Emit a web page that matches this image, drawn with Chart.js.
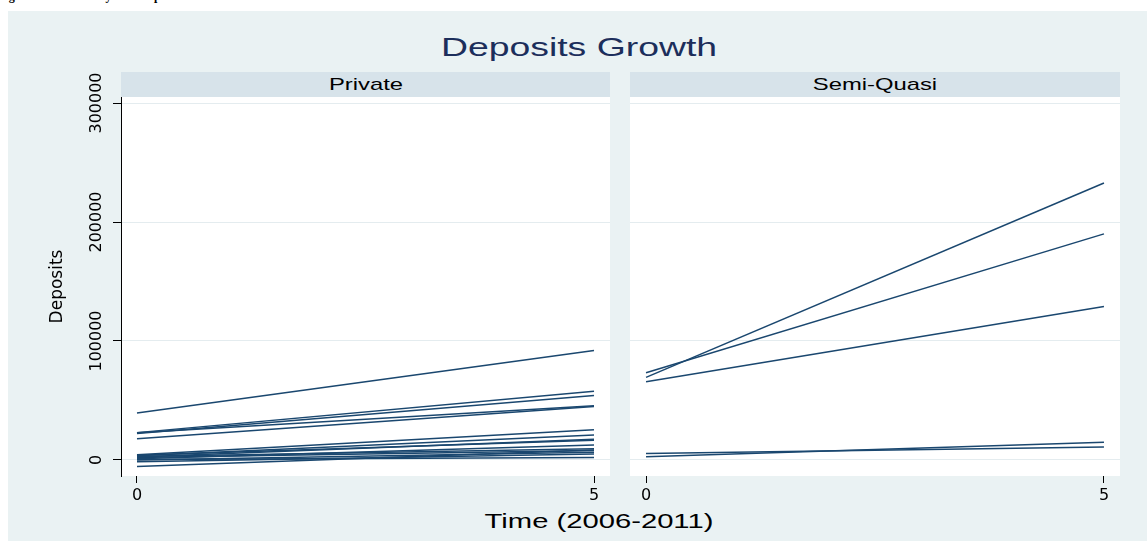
<!DOCTYPE html>
<html lang="en">
<head>
<meta charset="UTF-8">
<title>Deposits Growth</title>
<script src="https://cdn.jsdelivr.net/npm/chart.js"></script>
<style>
  body { margin: 0; width: 1147px; height: 541px; overflow: hidden; position: relative; background: #fff; font-family: "Liberation Sans", Arial, sans-serif; }
  .caption { position: absolute; left: -2px; top: -10px; font: bold 12px/12px "Liberation Serif", serif; color: #000; white-space: nowrap; }
  .region { position: absolute; left: 8px; top: 11px; width: 1139px; height: 530px; background: #eaf2f3; }
  .strip { position: absolute; top: 72px; height: 25px; background: #d7e3ea; }
  .txt { position: absolute; white-space: nowrap; line-height: 1; transform: translateX(-50%) scaleX(1.4); }
  canvas { position: absolute; }
</style>
</head>
<body>
<div class="caption">Figure 4: Trend Analysis of Deposit Growth</div>
<div class="region"></div>
<div class="strip" style="left:121px;width:489px"></div>
<div class="strip" style="left:630px;width:490px"></div>
<div class="txt" id="mainTitle" style="left:579px;top:33.6px;font-size:26.5px;color:#1c2e5b;transform:translateX(-50%) scaleX(1.41)">Deposits Growth</div>
<div class="txt" id="stripA" style="left:365.5px;top:75.6px;font-size:17px;color:#000"></div>
<div class="txt" id="stripB" style="left:875px;top:75.6px;font-size:17px;color:#000"></div>
<div class="txt" style="left:599px;top:511px;font-size:20px;color:#000;transform:translateX(-50%) scaleX(1.46)">Time (2006-2011)</div>
<canvas id="panelPrivate" width="585" height="450" style="left:30px;top:60px"></canvas>
<canvas id="panelSemi" width="500" height="450" style="left:625px;top:60px"></canvas>

<script>
// panels and axes
const panels = ['Private', 'Semi-Quasi'];
const years = [0, 5];
const xTicks = [0, 5];
const yTicks = [0, 100000, 200000, 300000];

// deposits per bank at the start (0) and end (5) of the period
const privateStart = [39500, 23000, 22300, 22800, 17800, 4500, 3500, 2500, 4000, 1000, 3000, 2000, 0, -1500, -5500, 500];
const privateEnd   = [92000, 57800, 54200, 45500, 45000, 25500, 21000, 17500, 16500, 12500, 9500, 8000, 6500, 5000, 8500, 2000];
const semiStart = [69400, 73300, 65800, 5500, 2800];
const semiEnd   = [232800, 190000, 128900, 11000, 15000];

const lineColor = '#1a476f';
const tickFont = { family: 'DejaVu Sans', size: 16 };

document.getElementById('stripA').textContent = panels[0];
document.getElementById('stripB').textContent = panels[1];

// white plot region behind the lines
const plotFill = {
  id: 'plotFill',
  beforeDraw(chart) {
    const { ctx, chartArea: a } = chart;
    ctx.save();
    ctx.fillStyle = '#ffffff';
    ctx.fillRect(a.left, a.top, a.right - a.left, a.bottom - a.top);
    ctx.restore();
  }
};

function makePanel(id, starts, ends, showY, padLeft) {
  const datasets = starts.map((s, i) => ({
    data: [{ x: years[0], y: s }, { x: years[1], y: ends[i] }],
    borderColor: lineColor,
    borderWidth: 1.5,
    pointRadius: 0,
    fill: false,
    tension: 0
  }));

  return new Chart(document.getElementById(id), {
    type: 'line',
    data: { datasets },
    plugins: [plotFill],
    options: {
      responsive: false,
      animation: false,
      devicePixelRatio: 1,
      layout: { padding: { top: 37, right: 5, bottom: 0, left: padLeft } },
      plugins: { legend: { display: false }, tooltip: { enabled: false }, title: { display: false } },
      scales: {
        x: {
          type: 'linear',
          min: -0.175,
          max: 5.175,
          afterBuildTicks: s => { s.ticks = xTicks.map(v => ({ value: v })); },
          afterFit: s => { s.height = 34; },
          border: { display: false },
          grid: { drawOnChartArea: false, drawTicks: true, tickLength: 7, tickColor: '#000' },
          ticks: { color: '#000', padding: 3, maxRotation: 0, autoSkip: false, font: tickFont }
        },
        y: {
          type: 'linear',
          min: -13450,
          max: 305050,
          afterBuildTicks: s => { s.ticks = yTicks.map(v => ({ value: v })); },
          afterFit: s => { s.width = showY ? 91 : 0; },
          border: { display: showY, color: '#000', width: 1 },
          grid: { color: '#e4ecef', lineWidth: 1, drawTicks: showY, tickLength: 8, tickColor: '#000' },
          ticks: {
            display: showY,
            autoSkip: false,
            minRotation: 90,
            maxRotation: 90,
            crossAlign: 'center',
            padding: -14.5,
            color: '#000',
            font: tickFont,
            callback: v => String(v)
          },
          title: {
            display: showY,
            text: 'Deposits',
            color: '#000',
            font: { family: 'DejaVu Sans', size: 17 },
            padding: { top: 17, bottom: 0 }
          }
        }
      }
    }
  });
}

makePanel('panelPrivate', privateStart, privateEnd, true, 0);
makePanel('panelSemi', semiStart, semiEnd, false, 5);
</script>
</body>
</html>
